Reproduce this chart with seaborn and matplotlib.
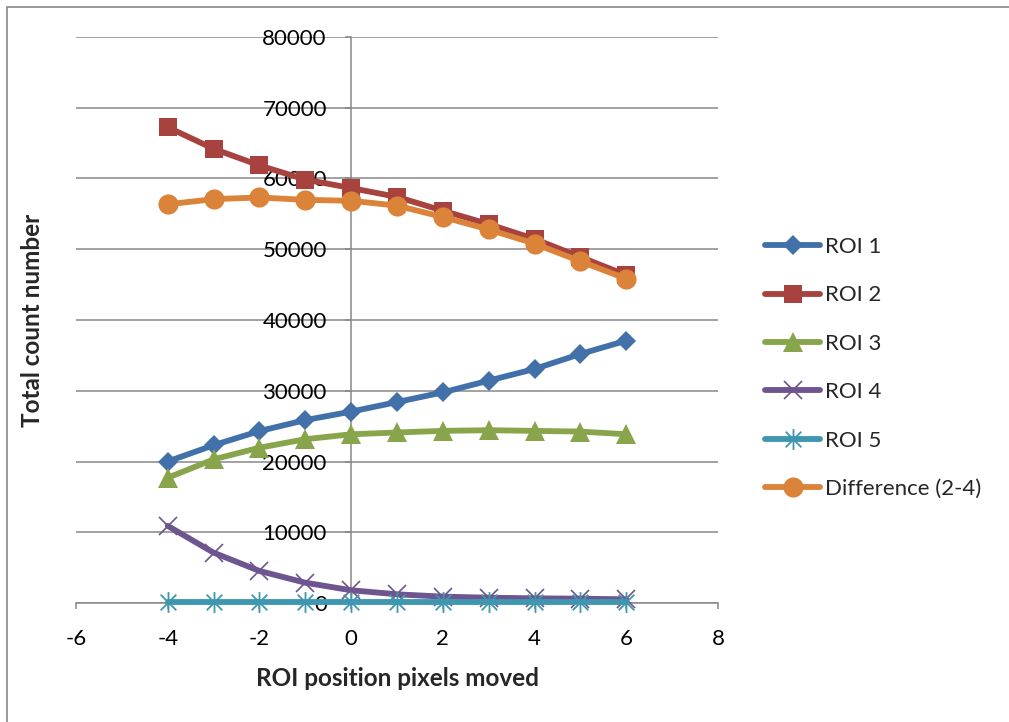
import numpy as np
import pandas as pd
import matplotlib
matplotlib.use("Agg")
import matplotlib.pyplot as plt
from matplotlib.path import Path
from matplotlib.patches import Rectangle
import seaborn as sns

# ---- data -------------------------------------------------------------
shift = [-4, -3, -2, -1, 0, 1, 2, 3, 4, 5, 6]

roi1 = [20000, 22300, 24300, 25850, 27050, 28400, 29770, 31430, 33080, 35200, 37080]
roi2 = [67250, 64200, 61850, 59850, 58650, 57400, 55450, 53550, 51450, 48900, 46350]
roi3 = [17700, 20300, 21950, 23150, 23850, 24100, 24330, 24420, 24330, 24230, 23850]
roi4 = [10900, 7120, 4530, 2870, 1800, 1230, 900, 750, 660, 610, 520]
roi5 = [150, 150, 150, 150, 150, 150, 150, 150, 150, 150, 150]
diff24 = [56350, 57080, 57320, 56980, 56850, 56170, 54550, 52800, 50790, 48290, 45830]

series_names = ["ROI 1", "ROI 2", "ROI 3", "ROI 4", "ROI 5", "Difference (2-4)"]
series_values = [roi1, roi2, roi3, roi4, roi5, diff24]

x_ticks = [-6, -4, -2, 0, 2, 4, 6, 8]
y_ticks = [0, 10000, 20000, 30000, 40000, 50000, 60000, 70000, 80000]

# ---- styling ----------------------------------------------------------
sns.set_theme(style="white")
plt.rcParams["font.family"] = ["Lato", "DejaVu Sans"]

colors = ["#4271AA", "#A8423F", "#88A54B", "#6F558F", "#3E97AF", "#DB8339"]
FS = 16
FS_LABEL = 17.5

# Asterisk marker: vertical bar plus an X
star_path = Path(
    [(0, -1), (0, 1), (-0.75, -0.75), (0.75, 0.75), (-0.75, 0.75), (0.75, -0.75)],
    [Path.MOVETO, Path.LINETO, Path.MOVETO, Path.LINETO, Path.MOVETO, Path.LINETO],
)
marker_styles = [
    dict(marker="D", markersize=10.5),
    dict(marker="s", markersize=13.5),
    dict(marker="^", markersize=14.5),
    dict(marker="x", markersize=13, markeredgewidth=1.2),
    dict(marker=star_path, markersize=15, markeredgewidth=1.3),
    dict(marker="o", markersize=14.5),
]

W, H = 1009, 722
fig = plt.figure(figsize=(W / 100, H / 100), dpi=100)
ax = fig.add_axes([76 / W, 1 - 603 / H, (718 - 76) / W, (603 - 37) / H])

df = pd.DataFrame({"shift": shift})
for name, vals, col, mk in zip(series_names, series_values, colors, marker_styles):
    df[name] = vals
    if mk["marker"] == "x" or mk["marker"] is star_path:
        extra = dict(markeredgecolor=col)
    else:
        extra = dict(markeredgecolor=col, markerfacecolor=col, markeredgewidth=0)
        mk = {k: v for k, v in mk.items() if k != "markeredgewidth"}
    sns.lineplot(data=df, x="shift", y=name, ax=ax, color=col, linewidth=4.2,
                 label=name, solid_capstyle="round", solid_joinstyle="round",
                 clip_on=False, **mk, **extra)

grid_col = "#878787"
ax.set_xlim(-6, 8)
ax.set_ylim(0, 80000)
ax.set_xticks(x_ticks)
ax.set_yticks(y_ticks)
ax.set_xticklabels([str(v) for v in x_ticks])
ax.set_yticklabels([str(v) for v in y_ticks])

ax.yaxis.grid(True, color=grid_col, linewidth=1.1)
ax.xaxis.grid(False)
ax.set_axisbelow(True)

for s in ("top", "right"):
    ax.spines[s].set_visible(False)
ax.spines["left"].set_position(("data", 0))
for s in ("left", "bottom"):
    ax.spines[s].set_color(grid_col)
    ax.spines[s].set_linewidth(1.1)
    ax.spines[s].set_zorder(0.5)

ax.tick_params(axis="x", direction="out", length=4.5, width=1.1, color=grid_col,
               pad=14, labelsize=FS, labelcolor="black", bottom=True)
ax.tick_params(axis="y", direction="out", length=4.5, width=1.1, color=grid_col,
               pad=13, labelsize=FS, labelcolor="black", left=True)

ax.set_xlabel("")
ax.set_ylabel("")
fig.text(397 / W, 1 - 678 / H, "ROI position pixels moved", fontsize=FS_LABEL,
         fontweight="bold", ha="center", va="center")
fig.text(33 / W, 1 - 320 / H, "Total count number", rotation=90, fontsize=FS_LABEL,
         fontweight="bold", ha="center", va="center")

handles, labels = ax.get_legend_handles_labels()
ax.get_legend().remove()
fig.legend(handles, labels, loc="center left", bbox_to_anchor=(765 / W, 1 - 368 / H),
           frameon=False, fontsize=FS, labelspacing=1.28, handlelength=2.48,
           handletextpad=0.22, borderpad=0, borderaxespad=0)

# outer chart border
fig.patches.append(Rectangle((7 / W, -0.5), 2, 0.5 + 1 - 7 / H, transform=fig.transFigure,
                             fill=False, edgecolor=grid_col, linewidth=1.2, zorder=0))

fig.savefig("out.png", dpi=100)
